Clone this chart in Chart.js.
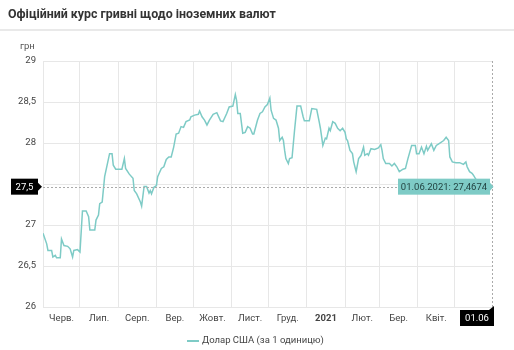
<!DOCTYPE html>
<html>
<head>
<meta charset="utf-8">
<script src="https://cdn.jsdelivr.net/npm/chart.js@4/dist/chart.umd.min.js"></script>
<style>
  html, body { margin: 0; padding: 0; background: #fff; }
  canvas { display: block; }
</style>
</head>
<body>
<canvas id="rateChart" width="514" height="350"></canvas>
<script>
// days counted from 01.06.2020
const dayOffsets = [
  0, 3, 4, 7, 8, 10, 11, 14, 15, 17, 20, 22, 24, 25, 28, 30,
  32, 35, 37, 38, 42, 43, 45, 46, 48, 50, 54, 56, 57, 59, 64, 66, 67, 70,
  73, 74, 76, 79, 80, 82, 84, 86, 87, 88, 90, 92, 93, 96, 98, 100,
  102, 104, 106, 108, 110, 112, 114, 116, 119, 120, 123, 126, 127, 129, 131, 133,
  135, 138, 141, 144, 146, 149, 151, 154, 156, 157, 158, 160, 162, 164, 166, 168,
  170, 171, 174, 176, 178, 180, 182, 184, 185, 187, 189, 191, 192, 194, 195, 196,
  197, 199, 200, 202, 204, 206, 209, 211, 212, 216, 218, 222, 224, 225, 227, 229,
  230, 232, 233, 235, 237, 239, 241, 243, 245, 246, 247, 249, 251, 252, 254, 256,
  257, 258, 260, 261, 263, 264, 266, 269, 272, 274, 275, 276, 278, 281, 283, 285,
  287, 289, 292, 294, 296, 299, 302, 303, 305, 307, 309, 311, 312, 315, 317, 319,
  321, 325, 327, 329, 330, 332, 335, 338, 341, 343, 344, 346, 348, 349, 351, 354,
  357, 361, 365
];
const usdRates = [
  26.90, 26.77, 26.69, 26.69, 26.61, 26.63, 26.60, 26.60, 26.83, 26.75, 26.74, 26.71, 26.61, 26.69, 26.70, 26.67,
  27.17, 27.17, 27.10, 26.94, 26.94, 27.06, 27.12, 27.26, 27.28, 27.59, 27.87, 27.87, 27.73, 27.68, 27.68, 27.81, 27.69, 27.62,
  27.57, 27.42, 27.38, 27.28, 27.23, 27.47, 27.47, 27.39, 27.42, 27.38, 27.46, 27.48, 27.59, 27.69, 27.71, 27.80,
  27.83, 27.83, 27.95, 28.11, 28.12, 28.20, 28.19, 28.26, 28.28, 28.32, 28.34, 28.35, 28.39, 28.32, 28.28, 28.22,
  28.28, 28.35, 28.37, 28.27, 28.26, 28.36, 28.44, 28.45, 28.59, 28.52, 28.36, 28.36, 28.12, 28.13, 28.20, 28.18,
  28.11, 28.11, 28.28, 28.36, 28.38, 28.44, 28.47, 28.55, 28.40, 28.30, 28.28, 28.18, 28.03, 28.07, 28.03, 27.91,
  27.81, 27.75, 27.81, 27.82, 28.15, 28.45, 28.45, 28.32, 28.27, 28.27, 28.42, 28.41, 28.26, 28.18, 27.97, 28.06,
  28.05, 28.18, 28.15, 28.26, 28.24, 28.18, 28.15, 28.18, 28.13, 28.05, 28.03, 27.91, 27.87, 27.77, 27.65, 27.81,
  27.83, 27.85, 27.95, 27.85, 27.87, 27.85, 27.93, 27.92, 27.94, 27.98, 27.91, 27.81, 27.75, 27.75, 27.72, 27.75,
  27.71, 27.65, 27.68, 27.69, 27.81, 27.97, 27.97, 27.87, 27.87, 27.95, 27.87, 27.96, 27.91, 27.99, 27.91, 27.97,
  27.99, 28.03, 28.07, 28.03, 27.83, 27.77, 27.76, 27.76, 27.74, 27.77, 27.71, 27.65, 27.63, 27.61, 27.56, 27.53,
  27.50, 27.49, 27.4674
];

const monthStartDays = [0, 30, 61, 92, 122, 153, 183, 214, 245, 273, 304, 334];
const monthLabelDays = [15, 45.5, 76.5, 107, 137.5, 168, 198.5, 229.5, 259, 288.5, 319];
const monthLabels = ["Черв.", "Лип.", "Серп.", "Вер.", "Жовт.", "Лист.", "Груд.", "2021", "Лют.", "Бер.", "Квіт."];

const seriesName = "Долар США (за 1 одиницю)";
const lastDateLabel = "01.06.2021";
const lastDateShort = "01.06";

const lineColor = "#7ecbc6";
const gridColor = "#e7e7e7";
const smallFont = "9.5px Roboto";

Chart.defaults.font.family = "Roboto, 'Noto Sans', sans-serif";
Chart.defaults.font.size = 9.5;
Chart.defaults.color = "#444";

const fmt = (v, d) => v.toFixed(d).replace(".", ",");

function box(ctx, x, y, w, h, color) {
  ctx.fillStyle = color;
  ctx.fillRect(x, y, w, h);
}

const decorations = {
  id: "decorations",
  beforeDraw(chart) {
    const ctx = chart.ctx;
    ctx.save();
    ctx.fillStyle = "#fff";
    ctx.fillRect(0, 0, chart.width, chart.height);

    ctx.fillStyle = "#333";
    ctx.font = "bold 12.4px Roboto";
    ctx.textBaseline = "middle";
    ctx.fillText("Офіційний курс гривні щодо іноземних валют", 8, 15);

    ctx.fillStyle = "#e9e9e9";
    ctx.fillRect(0, 29, chart.width, 2);

    ctx.fillStyle = "#555";
    ctx.font = smallFont;
    ctx.fillText("грн", 20, 47);
    ctx.restore();
  },
  afterDatasetsDraw(chart) {
    const ctx = chart.ctx;
    const area = chart.chartArea;
    const n = usdRates.length - 1;
    const px = chart.scales.x.getPixelForValue(dayOffsets[n]);
    const py = chart.scales.y.getPixelForValue(usdRates[n]);

    ctx.save();
    // crosshair
    ctx.strokeStyle = "#aaa";
    ctx.lineWidth = 1;
    ctx.setLineDash([2, 2]);
    ctx.beginPath();
    ctx.moveTo(area.left, Math.round(py) + 0.5);
    ctx.lineTo(px, Math.round(py) + 0.5);
    ctx.moveTo(Math.round(px) - 0.5, area.top);
    ctx.lineTo(Math.round(px) - 0.5, area.bottom);
    ctx.stroke();
    ctx.setLineDash([]);

    ctx.textAlign = "center";
    ctx.textBaseline = "middle";
    ctx.font = smallFont;

    // value label on the y axis
    box(ctx, 11, py - 8, 27, 16, "#000");
    ctx.beginPath();
    ctx.moveTo(38, py - 4);
    ctx.lineTo(42, py);
    ctx.lineTo(38, py + 4);
    ctx.fill();
    ctx.fillStyle = "#fff";
    ctx.fillText(fmt(usdRates[n], 1), 24.5, py + 0.5);

    // date label on the x axis
    box(ctx, px - 33, area.bottom + 3, 34, 16, "#000");
    ctx.beginPath();
    ctx.moveTo(px - 4, area.bottom + 3);
    ctx.lineTo(px + 1, area.bottom - 1);
    ctx.lineTo(px + 1, area.bottom + 3);
    ctx.fill();
    ctx.fillStyle = "#fff";
    ctx.fillText(lastDateShort, px - 16, area.bottom + 11.5);

    // tooltip
    const tw = 92;
    box(ctx, px - 3 - tw, py - 8, tw, 16, lineColor);
    ctx.beginPath();
    ctx.moveTo(px - 3, py - 4);
    ctx.lineTo(px + 0.5, py);
    ctx.lineTo(px - 3, py + 4);
    ctx.fill();
    ctx.fillStyle = "#1f3f3d";
    ctx.fillText(lastDateLabel + ": " + fmt(usdRates[n], 4), px - 3 - tw / 2, py + 0.5);

    // legend
    ctx.strokeStyle = lineColor;
    ctx.lineWidth = 2;
    ctx.beginPath();
    ctx.moveTo(187, 341);
    ctx.lineTo(199, 341);
    ctx.stroke();
    ctx.fillStyle = "#444";
    ctx.textAlign = "left";
    ctx.fillText(chart.data.datasets[0].label, 202, 341);
    ctx.restore();
  }
};

new Chart(document.getElementById("rateChart").getContext("2d"), {
  type: "line",
  data: {
    datasets: [{
      label: seriesName,
      data: usdRates.map((v, i) => ({ x: dayOffsets[i], y: v })),
      borderColor: lineColor,
      borderWidth: 1.5,
      pointRadius: 0,
      tension: 0,
      fill: false
    }]
  },
  options: {
    responsive: false,
    animation: false,
    layout: { padding: { top: 61, right: 21, bottom: 0, left: 0 } },
    plugins: { legend: { display: false }, tooltip: { enabled: false } },
    scales: {
      x: {
        type: "linear", min: 0, max: 365, position: "bottom",
        afterBuildTicks: (s) => { s.ticks = monthStartDays.map((v) => ({ value: v })); },
        ticks: { display: false },
        grid: { color: gridColor, drawTicks: false },
        border: { display: false },
        afterFit: (s) => { s.height = 0; }
      },
      months: {
        type: "linear", min: 0, max: 365, position: "bottom",
        afterBuildTicks: (s) => { s.ticks = monthLabelDays.map((v) => ({ value: v })); },
        ticks: {
          autoSkip: false, maxRotation: 0, padding: 6,
          callback: (v, i) => monthLabels[i],
          font: (c) => (c.tick && c.tick.label === "2021" ? { weight: "bold" } : { weight: "normal" })
        },
        grid: { display: false, drawTicks: false },
        border: { display: false },
        afterFit: (s) => { s.height = 43; }
      },
      y: {
        min: 26, max: 29,
        ticks: { stepSize: 0.5, padding: 7, callback: (v) => String(v).replace(".", ",") },
        grid: { color: gridColor, drawTicks: false },
        border: { display: false },
        afterFit: (s) => { s.width = 43; }
      }
    }
  },
  plugins: [decorations]
});
</script>
</body>
</html>
